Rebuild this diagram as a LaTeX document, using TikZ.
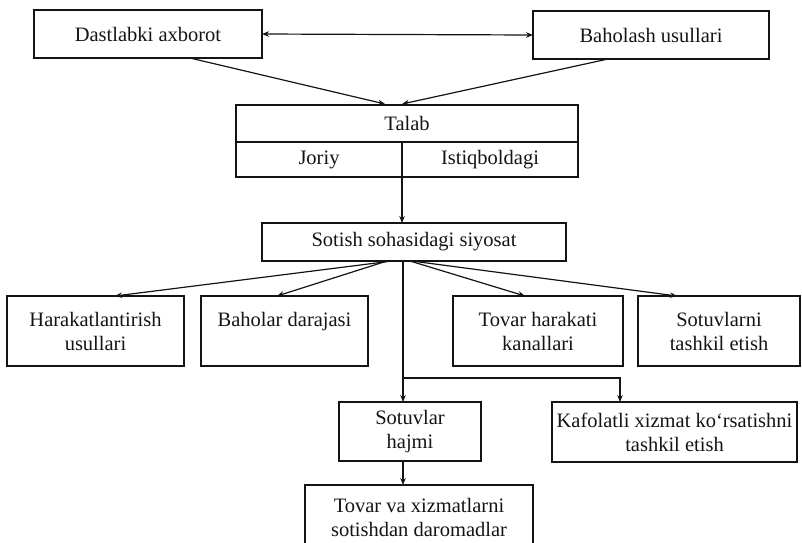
\documentclass[tikz,border=0pt]{standalone}
\usepackage{fontspec}
\setmainfont{Liberation Serif}
\usetikzlibrary{arrows.meta,calc}
\colorlet{ink}{black!92}
\begin{document}
\begin{tikzpicture}[x=1pt,y=-1pt,
  box/.style={draw=ink, line width=1.2pt, inner sep=0pt, outer sep=0pt, align=center,
    font=\fontsize{20.5}{24}\selectfont, text=ink},
  conn/.style={draw=ink, line width=1.2pt, -{Stealth[length=7pt,width=5.5pt]}},
  dconn/.style={draw=ink, line width=1.2pt, {Stealth[length=7pt,width=5.5pt]}-{Stealth[length=7pt,width=5.5pt]}},
  plain/.style={draw=ink, line width=1.2pt},
]
\useasboundingbox (0,0) rectangle (802,542);
\clip (0,0) rectangle (802,542);

% top row
\node[box, minimum width=228pt, minimum height=48pt] (da) at (148,34) {Dastlabki axborot};
\node[box, minimum width=236pt, minimum height=48pt] (bu) at (651,35) {Baholash usullari};

% Talab block
\node[box, minimum width=342pt, minimum height=37pt] (talab) at (407,123.5) {Talab};
\node[box, minimum width=166pt, minimum height=35pt] (joriy) at (319,159.5) {Joriy};
\node[box, minimum width=176pt, minimum height=35pt] (ist) at (490,159.5) {Istiqboldagi};

% policy
\node[box, minimum width=304pt, minimum height=38pt] (sotish) at (414,242) {Sotish sohasidagi siyosat};

% four boxes
\node[box, minimum width=177pt, minimum height=70pt] (har) at (95.5,331) {Harakatlantirish\\usullari};
\node[box, minimum width=167pt, minimum height=70pt] (bah) at (284.5,331) {Baholar darajasi\\\mbox{}};
\node[box, minimum width=170pt, minimum height=70pt] (tov) at (538,331) {Tovar harakati\\kanallari};
\node[box, minimum width=162pt, minimum height=70pt] (sot) at (719,331) {Sotuvlarni\\tashkil etish};

% lower boxes
\node[box, minimum width=142pt, minimum height=59pt] (hajm) at (410,431.5) {Sotuvlar\\hajmi};
\node[box, minimum width=245pt, minimum height=60pt] (kaf) at (674.5,432) {Kafolatli xizmat ko‘rsatishni\\tashkil etish};
\node[box, minimum width=228pt, minimum height=64pt] (dar) at (419,517) {Tovar va xizmatlarni\\sotishdan daromadlar};

% connectors
\draw[dconn] (da.east) -- (bu.west);
\draw[conn] ($(da.south)+(42,0)$) -- ($(talab.north)+(-22,-1)$);
\draw[conn] ($(bu.south)+(-43,0)$) -- ($(talab.north)+(-5,-1)$);
\draw[conn] (joriy.south east) -- (joriy.south east |- sotish.north);

\draw[conn] ($(sotish.south)+(-22,0)$) -- ($(har.north)+(19.5,0)$);
\draw[conn] ($(sotish.south)+(-27,0)$) -- ($(bah.north)+(-7.5,0)$);
\draw[conn] ($(sotish.south)+(-4,0)$) -- ($(tov.north)+(-13,0)$);
\draw[conn] ($(sotish.south)+(-2,0)$) -- ($(sot.north)+(-42,0)$);

\coordinate (br) at (403,378);
\coordinate (kafin) at ($(kaf.north)+(-54.5,0)$);
\draw[plain] (sotish.south -| br) -- (br);
\draw[conn] (br) -- (hajm.north -| br);
\draw[conn] (br) -| (kafin);
\draw[conn] (hajm.south -| br) -- (dar.north -| br);
\end{tikzpicture}
\end{document}
